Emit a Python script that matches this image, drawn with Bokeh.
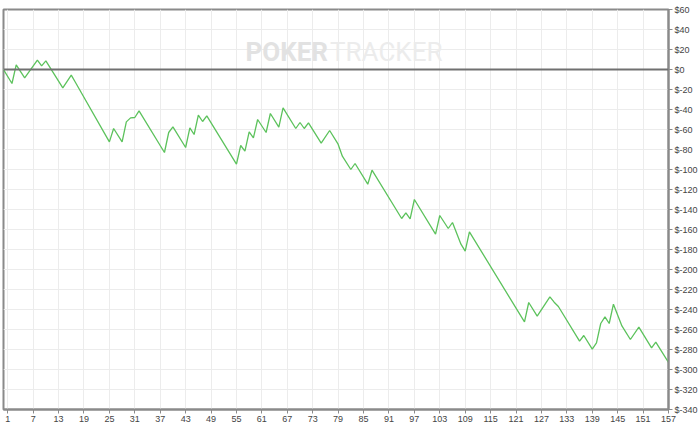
from bokeh.plotting import figure
from bokeh.models import Range1d, FixedTicker, Span, Label
from bokeh.embed import file_html
from bokeh.resources import INLINE

# Vertices of the cumulative prize line (tournament number, $ won)
tournaments = [0, 2, 3, 5, 8, 9, 10, 14, 16, 17,
               25, 26, 28, 29, 30, 31, 32, 38, 39, 40,
               43, 44, 45, 46, 47, 48, 55, 56, 57, 58,
               59, 60, 62, 63, 65, 66, 69, 70, 71, 72,
               75, 77, 79, 80, 82, 83, 86, 87, 94, 95,
               96, 97, 102, 103, 105, 106, 108, 109, 110, 123,
               124, 126, 129, 130, 131, 136, 137, 139, 140, 141,
               142, 143, 144, 146, 148, 150, 153, 154, 157]
profit = [0, -14, 4.6, -8.4, 9.3, 3.6, 8.6, -18.4, -5.7, -13,
          -72.4, -59, -72.4, -52.4, -48.4, -48, -41.4, -83, -63, -57.4,
          -78, -58.4, -65, -45.7, -52, -46.4, -94.7, -76, -81.7, -62.4,
          -68.4, -50, -63, -44, -57.7, -38.4, -59, -53, -59, -53.4,
          -73.7, -61, -74.7, -86.7, -100, -94, -114.7, -100.7, -149, -143.4,
          -149.4, -130, -164.7, -146, -159, -153, -174.7, -181.7, -162.4, -252.4,
          -233, -246.7, -227.4, -232.7, -237, -271.7, -266, -279.7, -273.4, -254,
          -247.4, -254, -234.7, -256.4, -270, -257.7, -278.4, -272.7, -293]

x_ticks = list(range(1, 158, 6))
y_ticks = list(range(-340, 61, 20))
y_labels = {v: f"${v}" for v in y_ticks}

title_text = "Prizes Won over Tournaments Played"
x_label_text = "Tournaments Played"

p = figure(width=700, height=427, output_backend="svg", toolbar_location=None,
           x_range=Range1d(0, 157), y_range=Range1d(-340, 60),
           y_axis_location="right",
           min_border_left=3, min_border_right=31, min_border_top=9,
           min_border_bottom=18)

p.background_fill_color = "white"
p.border_fill_color = "white"
p.outline_line_color = "#8a8a8a"
p.outline_line_width = 2

for ax in (p.xaxis[0], p.yaxis[0]):
    ax.axis_line_color = "#8a8a8a"
    ax.axis_line_width = 2
    ax.major_tick_line_color = "#8a8a8a"
    ax.major_tick_out = 4
    ax.major_tick_in = 0
    ax.minor_tick_line_color = None
    ax.major_label_text_font = "Liberation Sans"
    ax.major_label_text_font_size = "9px"
    ax.major_label_text_color = "#444444"
    ax.major_label_standoff = 2

p.xaxis.ticker = FixedTicker(ticks=x_ticks)
p.yaxis.ticker = FixedTicker(ticks=y_ticks)
p.yaxis.major_label_overrides = y_labels

p.xgrid.ticker = FixedTicker(ticks=x_ticks)
p.ygrid.ticker = FixedTicker(ticks=y_ticks)
p.grid.grid_line_color = "#ececec"
p.grid.grid_line_width = 1

# watermark
p.add_layout(Label(x=76.6, y=18, text="POKER", text_align="right",
                   text_baseline="alphabetic",
                   text_font="Roboto", text_font_style="bold",
                   text_font_size="26px", text_color="#e2e2e2"))
p.add_layout(Label(x=77.1, y=18, text="TRACKER", text_align="left",
                   text_baseline="alphabetic",
                   text_font="Roboto",
                   text_font_size="26px", text_color="#ececec"))

p.add_layout(Span(location=0, dimension="width", line_color="#707070", line_width=2))

p.line(tournaments, profit, line_color="#5cc25c", line_width=1.3)

p.add_layout(Label(x=81.8, y=66.3, text=title_text, text_align="center",
                   text_baseline="alphabetic", text_font="Liberation Sans",
                   text_font_size="10px", text_color="#444444"))
p.add_layout(Label(x=78.5, y=-352.7, text=x_label_text, text_align="center",
                   text_baseline="top", text_font="Liberation Sans",
                   text_font_size="10px", text_color="#444444"))

open("out.html", "w").write(file_html(p, INLINE))
